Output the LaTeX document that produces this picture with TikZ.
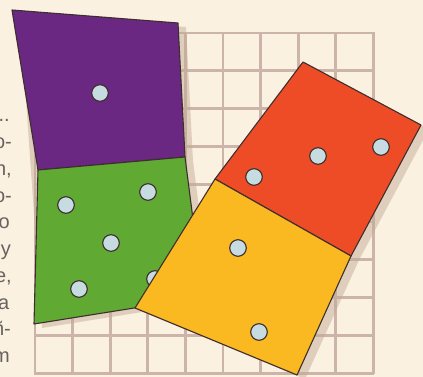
\documentclass[tikz,border=0pt]{standalone}
\usepackage{fontspec}
\setmainfont{Liberation Sans}
\usepackage{xcolor}
\usepackage{tikz}
\usetikzlibrary{positioning}

\definecolor{paper}{RGB}{250,241,225}
\definecolor{gridc}{RGB}{204,180,170}
\definecolor{shadowc}{RGB}{196,172,150}
\definecolor{edgec}{RGB}{62,46,46}
\definecolor{inkgray}{RGB}{104,99,94}
\definecolor{violet1}{RGB}{106,40,130}
\definecolor{green1}{RGB}{96,170,52}
\definecolor{red1}{RGB}{238,76,38}
\definecolor{yellow1}{RGB}{250,185,32}
\definecolor{pipblue}{RGB}{198,220,224}

\begin{document}
\begin{tikzpicture}[
  x=1pt, y=-1pt,
  every node/.style={font=\fontsize{20}{23}\selectfont, text=inkgray, inner sep=0pt},
  tile/.style={draw=edgec, line width=1.1pt, line join=round},
  pip/.style={fill=pipblue, draw=edgec, line width=1.1pt},
  shade/.style={fill=shadowc, opacity=0.5},
  gridline/.style={draw=gridc, line width=2.8pt, line cap=rect}
]
  \useasboundingbox (0,0) rectangle (423,377);
  \clip (0,0) rectangle (423,377);
  \fill[paper] (0,0) rectangle (423,377);

  \node[anchor=base east] (t1)  at (10,122)   {..};
  \node[anchor=base east] (t2)  at (12,148.7) {o-};
  \node[anchor=base east] (t3)  at (12,175.4) {n,};
  \node[anchor=base east] (t4)  at (12,202)   {o-};
  \node[anchor=base east] (t5)  at (10,228.8) {o};
  \node[anchor=base east] (t6)  at (11,255.5) {y};
  \node[anchor=base east] (t7)  at (12,282)   {e,};
  \node[anchor=base east] (t8)  at (9.5,309)  {a};
  \node[anchor=base east] (t9)  at (11,335.6) {ñ-};
  \node[anchor=base east] (t10) at (10,362.3) {m};

  \foreach \k in {0,...,9} {
    \draw[gridline] ({35+37.6*\k},33) -- ({35+37.6*\k},373);
    \draw[gridline] (35,{33+37.8*\k}) -- (373,{33+37.8*\k});
  }

  \begin{scope}[shift={(8,4)}]
    \fill[shade] (12,10) -- (178,23) -- (185,157) -- (203,297) -- (34,324) -- cycle;
    \fill[shade] (303,62) -- (421,125) -- (351,256) -- (297,375) -- (135,308) -- (215,179) -- cycle;
  \end{scope}

  \coordinate (pa) at (12,10);
  \coordinate (pb) at (178,23);
  \coordinate (pc) at (185,157);
  \coordinate (pd) at (38,170);
  \coordinate (gc) at (203,297);
  \coordinate (gd) at (34,324);
  \coordinate (ra) at (303,62);
  \coordinate (rb) at (421,125);
  \coordinate (rc) at (351,256);
  \coordinate (ya) at (215,179);
  \coordinate (yc) at (297,375);
  \coordinate (yd) at (135,308);

  \filldraw[tile, fill=violet1] (pa) -- (pb) -- (pc) -- (pd) -- cycle;
  \filldraw[tile, fill=green1] (pd) -- (pc) -- (gc) -- (gd) -- cycle;
  \filldraw[tile, fill=red1] (ra) -- (rb) -- (rc) -- (ya) -- cycle;

  \foreach \px/\py in {100/93, 66/205, 148/192, 111/243, 79/289, 155/279,
                       381/147, 318/156, 254/177}
    \filldraw[pip] (\px,\py) circle (8.3);

  \filldraw[tile, fill=yellow1] (ya) -- (rc) -- (yc) -- (yd) -- cycle;

  \foreach \px/\py in {238/248, 259/332}
    \filldraw[pip] (\px,\py) circle (8.3);
\end{tikzpicture}
\end{document}
